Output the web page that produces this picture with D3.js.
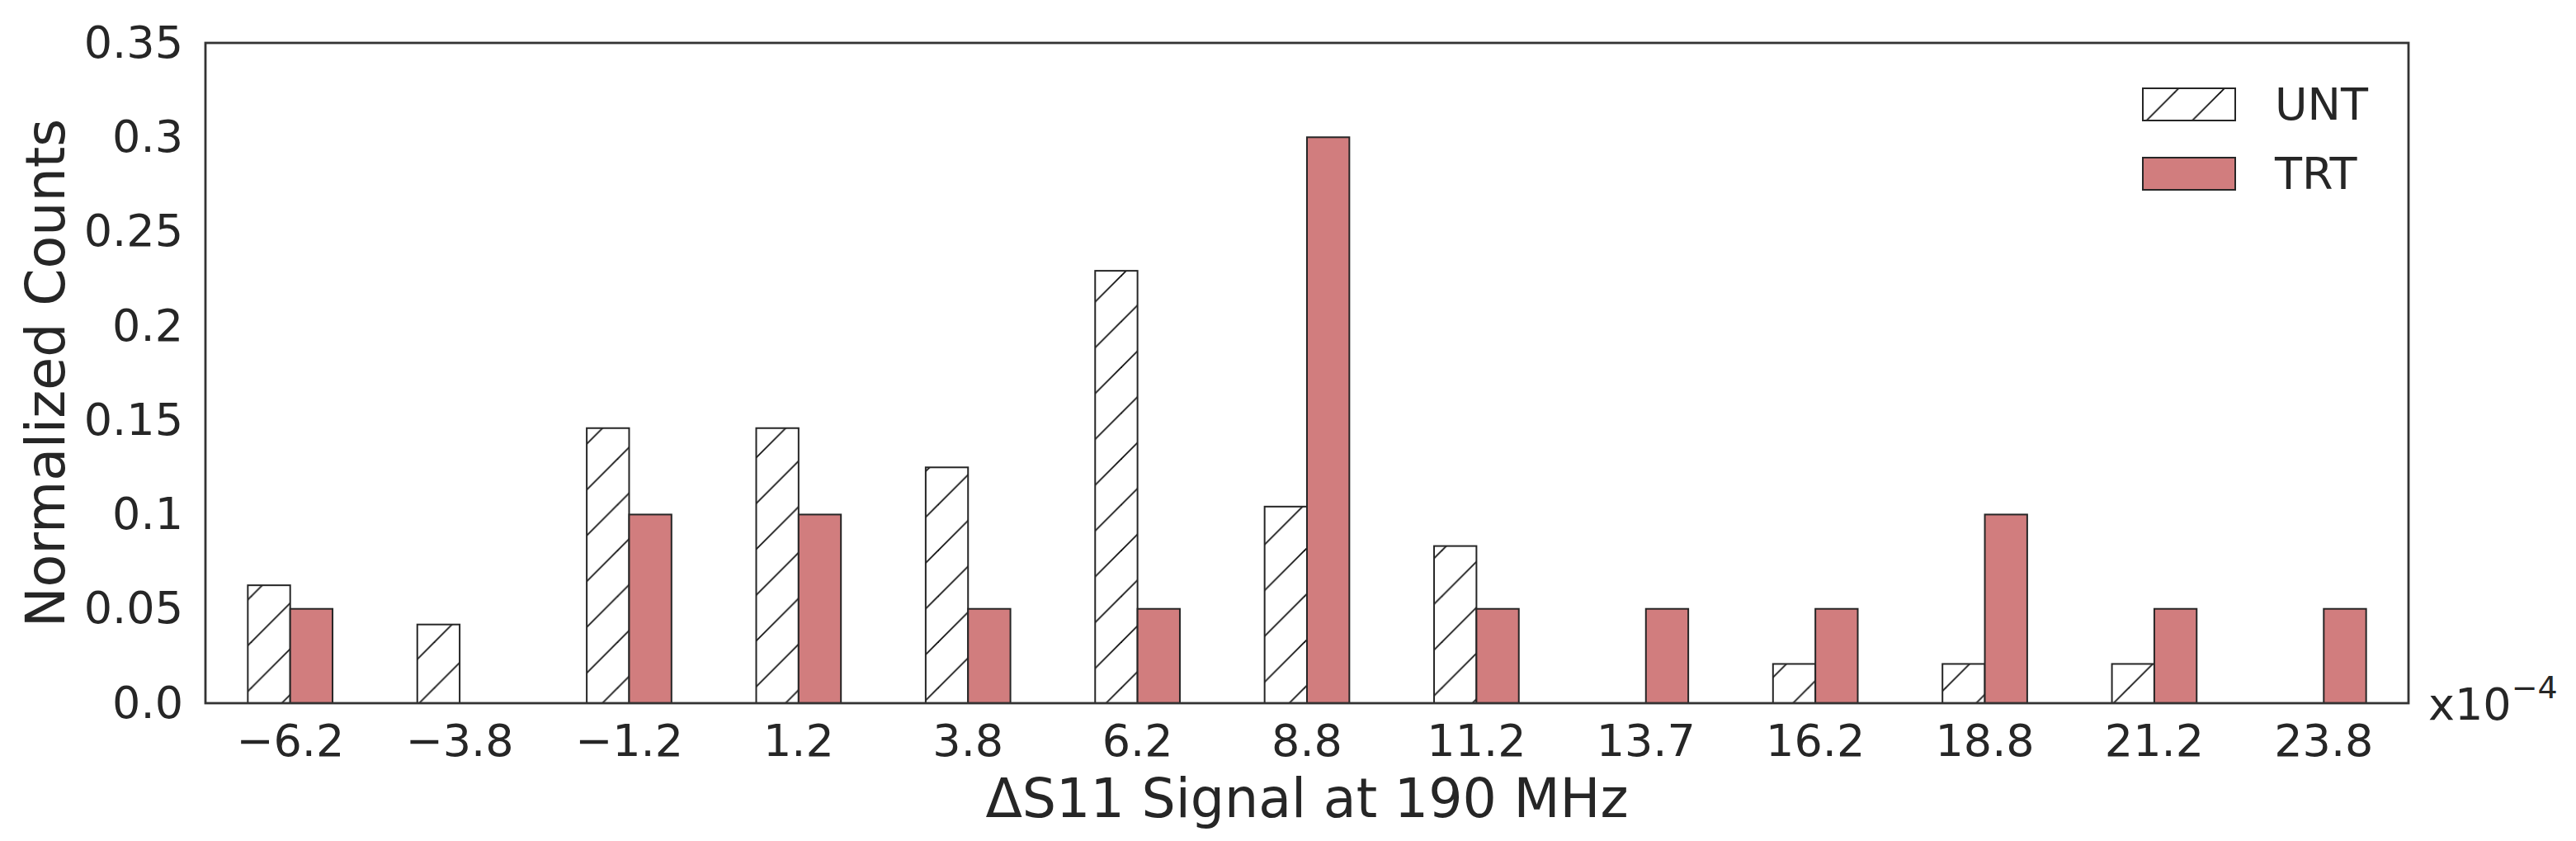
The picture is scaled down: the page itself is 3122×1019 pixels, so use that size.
<!DOCTYPE html>
<html>
<head>
<meta charset="utf-8">
<script src="https://cdn.jsdelivr.net/npm/d3@7"></script>
<style>
  body { margin: 0; background: #fff; }
  text { font-family: "DejaVu Sans", sans-serif; fill: #262626; }
</style>
</head>
<body>
<script>
const categories = ["\u22126.2", "\u22123.8", "\u22121.2", "1.2", "3.8", "6.2", "8.8",
  "11.2", "13.7", "16.2", "18.8", "21.2", "23.8"];
const unt = [0.0625, 0.0417, 0.1458, 0.1458, 0.125, 0.2292, 0.1042,
  0.0833, 0, 0.0208, 0.0208, 0.0208, 0];
const trt = [0.05, 0, 0.1, 0.1, 0.05, 0.05, 0.3, 0.05, 0.05, 0.05, 0.1, 0.05, 0.05];
const yTicks = [0, 0.05, 0.1, 0.15, 0.2, 0.25, 0.3, 0.35];
const yTickLabels = ["0.0", "0.05", "0.1", "0.15", "0.2", "0.25", "0.3", "0.35"];
const seriesNames = ["UNT", "TRT"];

const width = 3122;
const height = 1019;
const plotL = 249, plotR = 2919, plotT = 52, plotB = 852;
const ink = "#262626";
const red = "#d17d7e";

const svg = d3.select("body").append("svg")
  .attr("width", width)
  .attr("height", height);

// hatch pattern "/" anchored in page space
const defs = svg.append("defs");
const period = 55.5;
const pat = defs.append("pattern")
  .attr("id", "hatch")
  .attr("patternUnits", "userSpaceOnUse")
  .attr("x", 28)
  .attr("y", 0)
  .attr("width", period)
  .attr("height", period);
pat.append("rect").attr("width", period).attr("height", period).attr("fill", "#fff");
[[0, period, period, 0], [-2, 2, 2, -2], [period - 2, period + 2, period + 2, period - 2]]
  .forEach(d => {
    pat.append("line")
      .attr("x1", d[0]).attr("y1", d[1]).attr("x2", d[2]).attr("y2", d[3])
      .attr("stroke", "#111").attr("stroke-width", 1.8);
  });

const x = d3.scaleBand().domain(categories).range([plotL, plotR]).padding(0);
const y = d3.scaleLinear().domain([0, 0.35]).range([plotB, plotT]);
const bw = x.bandwidth() * 0.25;

const g = svg.append("g");

// UNT bars
g.selectAll("rect.unt")
  .data(unt)
  .join("rect")
  .attr("class", "unt")
  .attr("x", (d, i) => x(categories[i]) + x.bandwidth() / 2 - bw)
  .attr("y", d => y(d))
  .attr("width", bw)
  .attr("height", d => y(0) - y(d))
  .attr("fill", "url(#hatch)")
  .attr("stroke", ink)
  .attr("stroke-width", 2);

// TRT bars
g.selectAll("rect.trt")
  .data(trt)
  .join("rect")
  .attr("class", "trt")
  .attr("x", (d, i) => x(categories[i]) + x.bandwidth() / 2)
  .attr("y", d => y(d))
  .attr("width", bw)
  .attr("height", d => y(0) - y(d))
  .attr("fill", red)
  .attr("stroke", ink)
  .attr("stroke-width", 2);

// axes
const xAxis = svg.append("g")
  .attr("transform", `translate(0,${plotB})`)
  .call(d3.axisBottom(x).tickSize(0).tickPadding(26));
xAxis.select(".domain").remove();
xAxis.selectAll("text").style("font-size", "54px").attr("fill", ink);

const yAxis = svg.append("g")
  .attr("transform", `translate(${plotL},0)`)
  .call(d3.axisLeft(y).tickValues(yTicks).tickSize(0).tickPadding(27)
    .tickFormat((d, i) => yTickLabels[i]));
yAxis.select(".domain").remove();
yAxis.selectAll("text").style("font-size", "54px").attr("fill", ink);

// frame
svg.append("rect")
  .attr("x", plotL).attr("y", plotT)
  .attr("width", plotR - plotL).attr("height", plotB - plotT)
  .attr("fill", "none").attr("stroke", "#333").attr("stroke-width", 2.8);

// labels
svg.append("text")
  .attr("x", (plotL + plotR) / 2)
  .attr("y", 990)
  .attr("text-anchor", "middle")
  .style("font-size", "65px")
  .text("\u0394S11 Signal at 190 MHz");

svg.append("text")
  .attr("transform", `translate(78,${(plotT + plotB) / 2}) rotate(-90)`)
  .attr("text-anchor", "middle")
  .style("font-size", "65px")
  .text("Normalized Counts");

// offset label
const off = svg.append("text")
  .attr("x", 2943)
  .attr("y", 872)
  .style("font-size", "54px");
off.append("tspan").text("x10");
off.append("tspan").attr("dy", -26).style("font-size", "38px").text("\u22124");

// legend
const legend = svg.append("g");
const fills = ["url(#hatch)", red];
const legY = [107, 191];
seriesNames.forEach((name, i) => {
  legend.append("rect")
    .attr("x", 2597).attr("y", legY[i])
    .attr("width", 112).attr("height", 39)
    .attr("fill", fills[i])
    .attr("stroke", ink).attr("stroke-width", 2);
  legend.append("text")
    .attr("x", 2757).attr("y", legY[i] + 38)
    .style("font-size", "54px")
    .text(name);
});
</script>
</body>
</html>
